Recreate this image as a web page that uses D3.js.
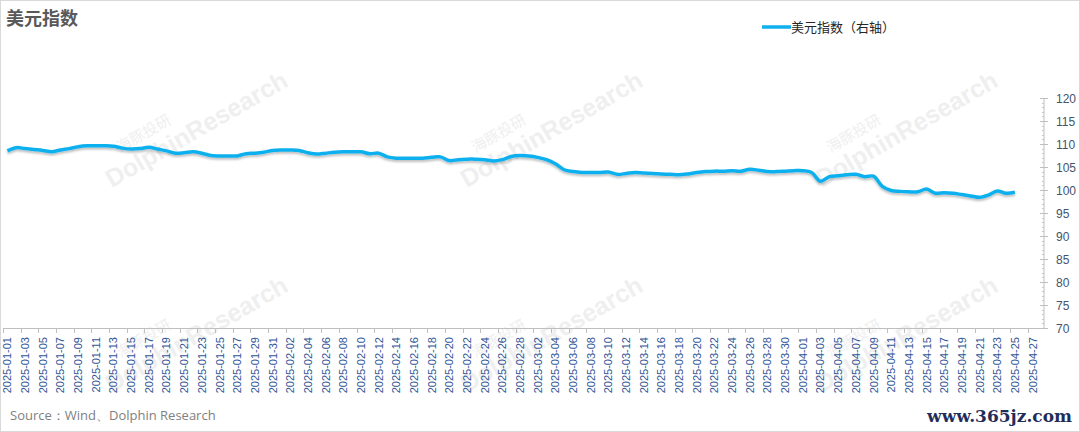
<!DOCTYPE html>
<html><head><meta charset="utf-8">
<script src="https://cdn.jsdelivr.net/npm/d3@7"></script>
<style>body{margin:0;background:#fff}svg{display:block}</style>
</head><body>
<svg id="c" width="1080" height="432"></svg>
<script>
const startDate = "2025-01-01";
const endDate = "2025-04-27";
const dxyValues = [
 108.5,109.2,109.0,108.8,108.6,108.3,108.7,109.0,109.4,109.6,109.6,109.6,109.5,109.1,108.9,109.0,109.3,108.9,108.5,108.0,108.1,108.3,108.0,107.5,107.4,107.4,107.4,107.9,108.0,108.2,108.6,
 108.7,108.7,108.6,108.1,107.8,108.0,108.2,108.3,108.3,108.3,107.9,108.0,107.2,106.9,106.9,106.9,106.9,107.1,107.2,106.4,106.6,106.7,106.7,106.6,106.3,106.6,107.3,107.5,
 107.4,107.1,106.6,105.7,104.4,104.0,103.8,103.8,103.8,103.9,103.4,103.6,103.8,103.7,103.6,103.5,103.4,103.3,103.5,103.8,104.0,104.1,104.1,104.2,104.1,104.5,104.3,104.0,104.0,104.1,104.2,
 104.2,103.8,101.9,102.9,103.1,103.3,103.4,102.9,103.0,100.8,99.9,99.7,99.6,99.6,100.2,99.3,99.4,99.3,99.0,98.7,98.4,98.9,99.8,99.3,99.5
];
const yTicks = [70,75,80,85,90,95,100,105,110,115,120];
const titleText = "美元指数";
const legendText = "美元指数（右轴）";
const sourceText = "Source：Wind、Dolphin Research";

const fmt = d3.timeFormat("%Y-%m-%d");
const days = d3.timeDay.range(new Date(startDate+"T00:00:00"), d3.timeDay.offset(new Date(endDate+"T00:00:00"),1)).map(fmt);
const data = dxyValues.map((v,i)=>({d:days[i], v}));

const svg = d3.select("#c");
const L = 3, R = 1037, T = 98, B = 328, axisX = 1044;

// border
svg.append("rect").attr("x",0.5).attr("y",0.5).attr("width",1079).attr("height",431).attr("fill","#fff").attr("stroke","#d9d9d9");

// watermarks
const wm = svg.append("g").attr("fill","#efefef");
[[185,125],[540,125],[895,125],[185,330],[540,330],[895,330]].forEach(([cx,cy])=>{
  const g = wm.append("g").attr("transform",`translate(${cx},${cy}) rotate(-30)`);
  g.append("text").attr("x",-70).attr("y",-8).attr("font-family","Noto Sans CJK SC").attr("font-size",15).text("海豚投研");
  g.append("text").attr("x",-95).attr("y",18).attr("font-family","Arial, Liberation Sans").attr("font-weight","bold").attr("font-size",25).text("DolphinResearch");
});

const x = d3.scaleBand().domain(days).range([L,R]).padding(0);
const y = d3.scaleLinear().domain([70,120]).range([B,T]);

// right axis
const minor = d3.range(70,121,1);
const ra = svg.append("g");
ra.append("line").attr("x1",axisX).attr("x2",axisX).attr("y1",T).attr("y2",B).attr("stroke","#bfbfbf");
ra.selectAll(".mn").data(minor).join("line").attr("x1",axisX-2).attr("x2",axisX).attr("y1",d=>Math.round(y(d))+0.5).attr("y2",d=>Math.round(y(d))+0.5).attr("stroke","#c8c8c8");
ra.selectAll(".mj").data(yTicks).join("line").attr("x1",axisX-4).attr("x2",axisX+4).attr("y1",d=>Math.round(y(d))+0.5).attr("y2",d=>Math.round(y(d))+0.5).attr("stroke","#bfbfbf");
ra.selectAll("text").data(yTicks).join("text").attr("x",axisX+12).attr("y",d=>y(d)+4.5)
  .attr("font-family","Liberation Sans, Arial").attr("font-size",12).attr("fill","#44546a").text(d=>d);

// bottom axis
const ba = svg.append("g");
ba.append("line").attr("x1",L).attr("x2",axisX).attr("y1",B+0.5).attr("y2",B+0.5).attr("stroke","#bfbfbf");
ba.append("line").attr("x1",L+0.5).attr("x2",L+0.5).attr("y1",B).attr("y2",B+5).attr("stroke","#bfbfbf");
const tickDays = days.filter((d,i)=>i%2===1);
ba.selectAll(".tk").data(tickDays).join("line").attr("x1",d=>Math.round(x(d)+x.bandwidth())+0.5).attr("x2",d=>Math.round(x(d)+x.bandwidth())+0.5)
  .attr("y1",B).attr("y2",B+5).attr("stroke","#bfbfbf");
const labelDays = days.filter((d,i)=>i%2===0);
ba.selectAll("text").data(labelDays).join("text")
  .attr("transform",d=>`translate(${x(d)+x.bandwidth()/2+4},${B+9}) rotate(-90)`)
  .attr("text-anchor","end").attr("font-family","Liberation Sans, Arial").attr("font-size",11).attr("fill","#2f5597").text(d=>d);

// line
const defs = svg.append("defs");
const f = defs.append("filter").attr("id","sh").attr("x","-5%").attr("y","-50%").attr("width","110%").attr("height","200%");
f.append("feDropShadow").attr("dx",0).attr("dy",2).attr("stdDeviation",1.2).attr("flood-color","#000").attr("flood-opacity",0.25);
const line = d3.line().x(d=>x(d.d)+x.bandwidth()/2).y(d=>y(d.v)).curve(d3.curveCatmullRom.alpha(0.5));
svg.append("path").datum(data).attr("d",line).attr("fill","none").attr("stroke","#10b0ef").attr("stroke-width",3.5).attr("stroke-linejoin","round").attr("filter","url(#sh)");

// title
svg.append("text").attr("x",6).attr("y",25).attr("font-family","Noto Sans CJK SC").attr("font-weight","bold").attr("font-size",18).attr("fill","#595959").text(titleText);

// legend
svg.append("line").attr("x1",762).attr("x2",791).attr("y1",27).attr("y2",27).attr("stroke","#10b0ef").attr("stroke-width",3.5);
svg.append("text").attr("x",791).attr("y",32).attr("font-family","Noto Sans CJK SC").attr("font-size",13).attr("fill","#262626").text(legendText);

// footer
svg.append("text").attr("x",10).attr("y",420).attr("font-family","Open Sans, Noto Sans").attr("font-size",13).attr("fill","#808080").text(sourceText);
svg.append("text").attr("x",1072).attr("y",422).attr("text-anchor","end").attr("font-family","DejaVu Serif, Liberation Serif").attr("font-weight","bold").attr("font-size",17).attr("fill","#1f2d5a").text("www.365jz.com");
</script>
</body></html>
